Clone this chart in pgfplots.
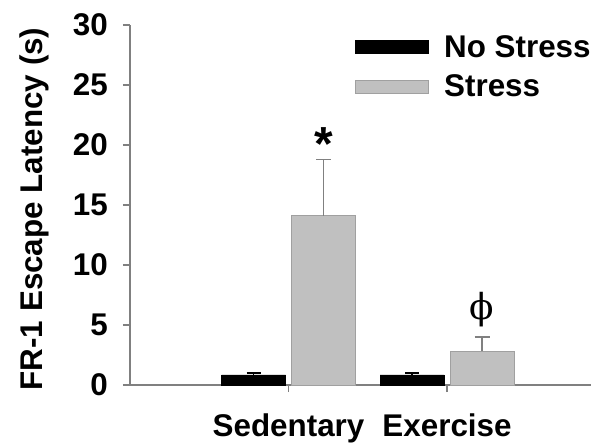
\documentclass[border=0pt]{standalone}
\usepackage{pgfplots}
\pgfplotsset{compat=1.18}
\usepackage{fontspec}
\setmainfont{Liberation Sans}
\newfontfamily\phifont{DejaVu Serif}
\definecolor{barg}{RGB}{192,192,192}
\definecolor{edgeg}{RGB}{160,160,160}
\definecolor{axg}{RGB}{128,128,128}
\newcommand{\bigf}{\fontsize{31.5}{37}\selectfont\bfseries}
\begin{document}
\begin{tikzpicture}
\path[use as bounding box] (-130bp,-58bp) rectangle (461bp,385bp);
\begin{axis}[
  scale only axis, width=461bp, height=360bp,
  xmin=-1, xmax=1.908, ymin=0, ymax=30,
  axis x line=bottom, axis y line=left,
  axis line style={axg, line width=1.2bp, -},
  tick align=outside,
  tick style={axg, line width=1.2bp},
  major tick length=7bp,
  ytick={0,5,...,30}, xtick={0,1}, xticklabels={Sedentary,Exercise},
  ybar=6bp, bar width=64bp,
  clip=false,
  /pgf/number format/assume math mode=true,
  ticklabel style={font=\bigf},
  yticklabel style={anchor=east, inner sep=0pt, xshift=-15bp},
  xticklabel style={anchor=base, inner sep=0pt, yshift=-44.5bp},
  ylabel={FR-1 Escape Latency (s)},
  ylabel style={font=\bigf, at={(axis description cs:-0.208,0.489)}, anchor=center},
  legend style={draw=none, fill=none, font=\bigf, at={(0.488,0.977)}, anchor=north west,
    cells={anchor=west}, inner sep=0pt, row sep=12bp},
]
\addplot[fill=black, draw=black,
  legend image code/.code={\draw[fill=black,draw=black] (0bp,-6.5bp) rectangle (73bp,6.5bp);},
  error bars/.cd, y dir=plus, y explicit,
  error bar style={black, line width=1.2bp}, error mark options={rotate=90, mark size=7bp, black, line width=1.2bp}]
  coordinates {(0,0.85) +- (0,0.15) (1,0.85) +- (0,0.15)};
\addlegendentry{\hspace{13bp}No Stress}
\addplot[fill=barg, draw=edgeg, line width=1bp,
  legend image code/.code={\draw[fill=barg,draw=edgeg,line width=1bp] (0bp,-6.5bp) rectangle (73bp,6.5bp);},
  error bars/.cd, y dir=plus, y explicit,
  error bar style={axg, line width=1.5bp}, error mark options={rotate=90, mark size=7.5bp, axg, line width=1.5bp}]
  coordinates {(0,14.1) +- (0,4.7) (1,2.8) +- (0,1.2)};
\addlegendentry{\hspace{13bp}Stress}
\node[font=\fontsize{48}{50}\selectfont\bfseries, anchor=north, inner sep=0pt, xshift=35bp] at (axis cs:0,21.5) {*};
\node[font=\fontsize{36}{40}\selectfont\phifont, anchor=center, inner sep=0pt, xshift=35bp] at (axis cs:1,6.25) {ϕ};
\end{axis}
\end{tikzpicture}
\end{document}
